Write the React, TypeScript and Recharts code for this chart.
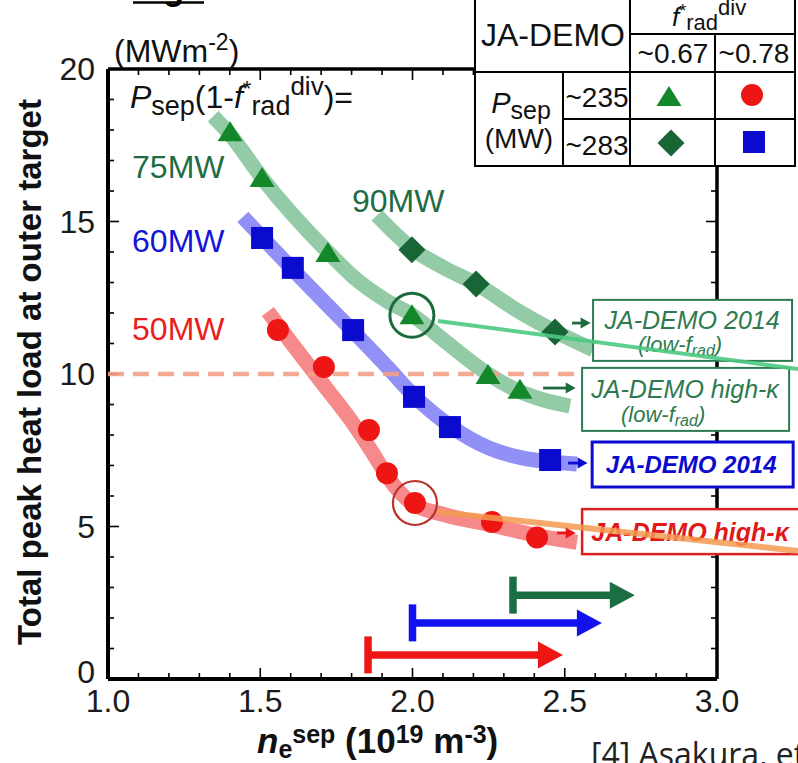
import React from 'react';
import { ComposedChart, XAxis, YAxis, Line, Scatter, ReferenceLine } from 'recharts';

const FONT = '"Liberation Sans", Arial, Helvetica, sans-serif';
const W = 798;
const H = 763;

// ---- axis ticks ----
const xTickLabels = [1.0, 1.5, 2.0, 2.5, 3.0];
const yTickLabels = [0, 5, 10, 15, 20];
const xInnerTicks = [1.1, 1.2, 1.3, 1.4, 1.5, 1.6, 1.7, 1.8, 1.9, 2.0, 2.1, 2.2, 2.3, 2.4, 2.5, 2.6, 2.7, 2.8, 2.9];
const yInnerTicks = [1, 2, 3, 4, 5, 6, 7, 8, 9, 10, 11, 12, 13, 14, 15, 16, 17, 18, 19];
const xMajorTicks = [1.5, 2.0, 2.5];
const yMajorTicks = [5, 10, 15];

// ---- colours ----
const GREEN_TRI = '#14872a';
const GREEN_DIA = '#186636';
const BLUE = '#0b0bd0';
const RED = '#ee1515';
const LABEL_GREEN = '#1f6c44';
const BOX_GREEN = '#2d7a50';

// ---- measured points ----
const triangles75 = [
  { x: 1.401, y: 17.93 }, { x: 1.506, y: 16.43 }, { x: 1.722, y: 13.97 },
  { x: 1.998, y: 11.93 }, { x: 2.248, y: 9.97 }, { x: 2.353, y: 9.48 },
];
const diamonds90 = [
  { x: 1.998, y: 14.07 }, { x: 2.209, y: 12.95 }, { x: 2.468, y: 11.38 },
];
const squares60 = [
  { x: 1.506, y: 14.46 }, { x: 1.607, y: 13.48 }, { x: 1.805, y: 11.44 },
  { x: 2.005, y: 9.25 }, { x: 2.123, y: 8.26 }, { x: 2.452, y: 7.18 },
];
const circles50 = [
  { x: 1.558, y: 11.44 }, { x: 1.709, y: 10.23 }, { x: 1.857, y: 8.16 },
  { x: 1.916, y: 6.75 }, { x: 2.008, y: 5.77 }, { x: 2.261, y: 5.15 }, { x: 2.409, y: 4.64 },
];

// ---- guide curves (thick translucent bands) ----
const curve75 = [
  { x: 1.345, y: 18.45 }, { x: 1.401, y: 17.85 }, { x: 1.506, y: 16.42 },
  { x: 1.722, y: 14.0 }, { x: 1.81, y: 13.15 }, { x: 1.915, y: 12.4 }, { x: 2.0, y: 11.93 },
  { x: 2.11, y: 11.05 }, { x: 2.248, y: 10.0 }, { x: 2.353, y: 9.42 }, { x: 2.44, y: 9.12 }, { x: 2.517, y: 8.95 },
];
const curve90 = [
  { x: 1.883, y: 15.2 }, { x: 2.0, y: 14.1 }, { x: 2.1, y: 13.5 }, { x: 2.21, y: 12.95 },
  { x: 2.35, y: 12.05 }, { x: 2.468, y: 11.4 }, { x: 2.593, y: 10.8 },
];
const curve60 = [
  { x: 1.443, y: 15.15 }, { x: 1.506, y: 14.48 }, { x: 1.607, y: 13.42 }, { x: 1.805, y: 11.4 },
  { x: 1.92, y: 10.2 }, { x: 2.005, y: 9.28 }, { x: 2.123, y: 8.3 },
  { x: 2.25, y: 7.58 }, { x: 2.36, y: 7.25 }, { x: 2.452, y: 7.12 }, { x: 2.54, y: 7.05 },
];
const curve50 = [
  { x: 1.525, y: 12.05 }, { x: 1.6, y: 11.05 }, { x: 1.7, y: 9.75 }, { x: 1.8, y: 8.45 },
  { x: 1.87, y: 7.4 }, { x: 1.92, y: 6.6 }, { x: 2.0, y: 5.75 }, { x: 2.1, y: 5.4 },
  { x: 2.26, y: 5.05 }, { x: 2.41, y: 4.7 }, { x: 2.54, y: 4.48 },
];

// ---- annotations ----
const ringGreen = [{ x: 1.998, y: 11.93 }];
const ringRed = [{ x: 2.008, y: 5.77 }];
const thresholdLine = [{ x: 1.0, y: 10 }, { x: 2.56, y: 10 }];
const linkGreen = [{ x: 2.084, y: 11.74 }, { x: 3.266, y: 10.16 }];
const linkOrange = [{ x: 2.08, y: 5.48 }, { x: 3.266, y: 4.2 }];

const rangeArrows = [
  { id: 'red', x0: 1.854, x1: 2.494, y: 0.79 },
  { id: 'blue', x0: 2.0, x1: 2.622, y: 1.84 },
  { id: 'green', x0: 2.33, x1: 2.73, y: 2.75 },
];
const rangeColors: Record<string, string> = { red: RED, blue: '#1212ee', green: '#1b6e42' };

const smallArrows = [
  { id: 'a1', x0: 2.524, x1: 2.585, y: 11.67 },
  { id: 'a2', x0: 2.429, x1: 2.536, y: 9.54 },
  { id: 'a3', x0: 2.511, x1: 2.575, y: 7.08 },
  { id: 'a4', x0: 2.475, x1: 2.536, y: 4.79 },
];
const smallArrowColors: Record<string, string> = { a1: '#1d6b40', a2: '#1d6b40', a3: BLUE, a4: RED };

const boxAnchors = [
  { id: 'b1', x: 2.593, y: 12.43, title: 'JA-DEMO 2014', sub: true },
  { id: 'b2', x: 2.557, y: 10.2, title: 'JA-DEMO high-κ', sub: true },
  { id: 'b3', x: 2.59, y: 7.77, title: 'JA-DEMO 2014', sub: false },
  { id: 'b4', x: 2.557, y: 5.57, title: 'JA-DEMO high-κ', sub: false },
];
const boxStyles: Record<string, any> = {
  b1: { w: 199, h: 61, stroke: BOX_GREEN, sw: 2, color: BOX_GREEN, bold: false, fs: 25, tx: 99, ty: 29, sx: 87, sy: 52 },
  b2: { w: 207, h: 63, stroke: BOX_GREEN, sw: 2, color: BOX_GREEN, bold: false, fs: 25, tx: 103, ty: 30, sx: 81, sy: 54 },
  b3: { w: 201, h: 45, stroke: BLUE, sw: 3, color: BLUE, bold: true, fs: 24, tx: 99, ty: 31 },
  b4: { w: 220, h: 45, stroke: '#dd2020', sw: 2.5, color: '#e01818', bold: true, fs: 25, tx: 108, ty: 32 },
};

const seriesLabels = [
  { x: 1.079, y: 16.43, text: '75MW', color: LABEL_GREEN },
  { x: 1.079, y: 14.0, text: '60MW', color: '#1414d6' },
  { x: 1.079, y: 11.11, text: '50MW', color: '#e81e1e' },
  { x: 1.801, y: 15.31, text: '90MW', color: LABEL_GREEN },
];
const formulaLabel = [{ x: 1.072, y: 18.72 }];

// ---- rich text helper ----
type Seg = { t: string; s?: number; sh?: number; i?: boolean; b?: boolean };
function Rich(props: { x: number; y: number; segs: Seg[]; size: number; fill: string; anchor?: string; bold?: boolean; italic?: boolean; family?: string }) {
  let prev = 0;
  return (
    <text x={props.x} y={props.y} fill={props.fill} fontSize={props.size} textAnchor={props.anchor || 'start'}
      fontFamily={props.family || FONT} fontWeight={props.bold ? 'bold' : 'normal'} fontStyle={props.italic ? 'italic' : 'normal'}>
      {props.segs.map((g, k) => {
        const sh = g.sh ?? 0;
        const dy = sh - prev;
        prev = sh;
        return (
          <tspan key={k} dy={dy} fontSize={g.s ?? props.size} fontStyle={g.i ? 'italic' : undefined} fontWeight={g.b ? 'bold' : undefined}>
            {g.t}
          </tspan>
        );
      })}
    </text>
  );
}

// ---- shapes ----
const triShape = (p: any) => (
  <polygon points={`${p.cx},${p.cy - 11} ${p.cx - 12.5},${p.cy + 9} ${p.cx + 12.5},${p.cy + 9}`} fill={GREEN_TRI} />
);
const diaShape = (p: any) => (
  <polygon points={`${p.cx},${p.cy - 13.5} ${p.cx + 13.5},${p.cy} ${p.cx},${p.cy + 13.5} ${p.cx - 13.5},${p.cy}`} fill={GREEN_DIA} />
);
const sqShape = (p: any) => <rect x={p.cx - 11} y={p.cy - 11} width={22} height={22} fill={BLUE} />;
const cirShape = (p: any) => <circle cx={p.cx} cy={p.cy} r={11} fill={RED} />;
const ringShape = (color: string, w: number) => (p: any) => (
  <circle cx={p.cx} cy={p.cy} r={22} fill="none" stroke={color} strokeWidth={w} />
);

const tickShape = (dir: 'right' | 'left' | 'up' | 'down') => (p: any) => {
  const L = p.payload.major ? 11 : 6;
  const { cx, cy } = p;
  if (dir === 'right') return <line x1={cx} y1={cy} x2={cx + L} y2={cy} stroke="#000" strokeWidth={1.6} />;
  if (dir === 'left') return <line x1={cx} y1={cy} x2={cx - L} y2={cy} stroke="#000" strokeWidth={1.6} />;
  if (dir === 'up') return <line x1={cx} y1={cy} x2={cx} y2={cy - L} stroke="#000" strokeWidth={1.6} />;
  return <line x1={cx} y1={cy} x2={cx} y2={cy + L} stroke="#000" strokeWidth={1.6} />;
};

const labelShape = (p: any) => (
  <text x={p.cx} y={p.cy} fill={p.payload.color} fontSize={32} fontFamily={FONT}>{p.payload.text}</text>
);
const formulaShape = (p: any) => (
  <Rich x={p.cx} y={p.cy} size={32} fill="#111" segs={[
    { t: 'P', i: true }, { t: 'sep', s: 27, sh: 7 }, { t: '(1-', sh: 0 }, { t: 'f', i: true },
    { t: '*', s: 22, sh: -12 }, { t: 'rad', s: 27, sh: 7 }, { t: 'div', s: 26, sh: -13 }, { t: ')=', sh: 0 },
  ]} />
);

const lowFrad = (x: number, y: number, color: string) => (
  <Rich x={x} y={y} size={22} fill={color} anchor="middle" italic segs={[
    { t: '(low-f' }, { t: 'rad', s: 16, sh: 4 }, { t: ')', sh: 0 },
  ]} />
);

const boxShape = (p: any) => {
  const b = p.payload;
  const s = boxStyles[b.id];
  const x = p.cx;
  const y = p.cy;
  return (
    <g>
      <rect x={x} y={y} width={s.w} height={s.h} fill="#fff" stroke={s.stroke} strokeWidth={s.sw} />
      <text x={x + s.tx} y={y + s.ty} fill={s.color} fontSize={s.fs} fontStyle="italic" fontWeight={s.bold ? 'bold' : 'normal'}
        textAnchor="middle" fontFamily={FONT}>{b.title}</text>
      {b.sub ? lowFrad(x + s.sx, y + s.sy, s.color) : null}
    </g>
  );
};

const rangeArrowShape = (p: any) => {
  const c = rangeColors[p.id] || '#000';
  const { x1, y1, x2 } = p;
  const head = 25;
  const hh = 13.5;
  return (
    <g>
      <line x1={x1} y1={y1 - 18.5} x2={x1} y2={y1 + 18.5} stroke={c} strokeWidth={7.5} />
      <line x1={x1} y1={y1} x2={x2 - head + 2} y2={y1} stroke={c} strokeWidth={7.5} />
      <polygon points={`${x2},${y1} ${x2 - head},${y1 - hh} ${x2 - head},${y1 + hh}`} fill={c} />
    </g>
  );
};

const smallArrowShape = (p: any) => {
  const c = smallArrowColors[p.id] || '#000';
  const { x1, y1, x2 } = p;
  return (
    <g>
      <line x1={x1} y1={y1} x2={x2 - 8} y2={y1} stroke={c} strokeWidth={2.8} />
      <polygon points={`${x2},${y1} ${x2 - 10},${y1 - 5.5} ${x2 - 10},${y1 + 5.5}`} fill={c} />
    </g>
  );
};

const YTick = (p: any) => {
  const v = p.payload.value;
  const lift = v === 0 ? -7 : 0;
  return (
    <text x={p.x} y={p.y + lift} dy="0.355em" textAnchor="end" fontSize={32} fill="#1a1a1a" fontFamily={FONT}>{v}</text>
  );
};

const leftTicks = yInnerTicks.map((v) => ({ x: 1, y: v, major: yMajorTicks.includes(v) }));
const rightTicks = yInnerTicks.map((v) => ({ x: 3, y: v, major: yMajorTicks.includes(v) }));
const bottomTicks = xInnerTicks.map((v) => ({ x: v, y: 0, major: xMajorTicks.includes(v) }));
const topTicks = xInnerTicks.map((v) => ({ x: v, y: 20, major: xMajorTicks.includes(v) }));

function Overlay() {
  // table geometry
  const L = 475, R = 795, B = 166;
  const c1 = 563, c2 = 630, c3 = 715;
  const r1 = 34, r2 = 72, r3 = 119;
  const ln = { stroke: '#000', strokeWidth: 2 };
  return (
    <svg width={W} height={H} style={{ position: 'absolute', left: 0, top: 0, pointerEvents: 'none' }}>
      {/* figure caption remnant */}
      <text x={133} y={0} fontSize={34} fontWeight="bold" fontFamily={FONT} fill="#000">Fig.</text>
      <line x1={133} y1={2.5} x2={204} y2={2.5} stroke="#000" strokeWidth={2.5} />

      {/* unit */}
      <Rich x={114} y={62} size={32} fill="#111" segs={[{ t: '(MWm' }, { t: '-2', s: 23, sh: -12 }, { t: ')', sh: 0 }]} />

      {/* y title */}
      <text x={41} y={372} transform="rotate(-90 41 372)" textAnchor="middle" fontWeight="bold" fontSize={33}
        fontFamily={FONT} fill="#111">Total peak heat load at outer target</text>

      {/* x title */}
      <Rich x={257} y={753} size={35} bold fill="#111" segs={[
        { t: 'n', i: true }, { t: 'e', s: 25, sh: 5 }, { t: 'sep', s: 25, sh: -10 }, { t: ' (10', sh: 0 },
        { t: '19', s: 25, sh: -10 }, { t: ' m', sh: 0 }, { t: '-3', s: 25, sh: -10 }, { t: ')', sh: 0 },
      ]} />

      {/* citation */}
      <text x={591} y={766} fontSize={32} fontFamily='"Open Sans", "Noto Sans", sans-serif' fill="#222">[4] Asakura, et al.</text>

      {/* table */}
      <rect x={L} y={0} width={W - L} height={B + 1} fill="#fff" />
      <line x1={L} y1={0} x2={L} y2={B} {...ln} />
      <line x1={R} y1={0} x2={R} y2={B} {...ln} />
      <line x1={L - 1} y1={B} x2={R + 1} y2={B} {...ln} />
      <line x1={L} y1={r2} x2={R} y2={r2} {...ln} />
      <line x1={c2} y1={r1} x2={R} y2={r1} {...ln} />
      <line x1={c1} y1={r3} x2={R} y2={r3} {...ln} />
      <line x1={c2} y1={0} x2={c2} y2={B} {...ln} />
      <line x1={c1} y1={r2} x2={c1} y2={B} {...ln} />
      <line x1={c3} y1={r1} x2={c3} y2={B} {...ln} />

      <text x={553} y={46} textAnchor="middle" fontSize={32} fontFamily={FONT} fill="#111">JA-DEMO</text>
      <Rich x={672} y={26} size={26} fill="#111" segs={[
        { t: 'f', i: true }, { t: '*', s: 18, sh: -9 }, { t: 'rad', s: 22, sh: 4 }, { t: 'div', s: 22, sh: -11 },
      ]} />
      <text x={673} y={63} textAnchor="middle" fontSize={28} fontFamily={FONT} fill="#111">~0.67</text>
      <text x={754} y={63} textAnchor="middle" fontSize={28} fontFamily={FONT} fill="#111">~0.78</text>
      <Rich x={521} y={113} size={29} anchor="middle" fill="#111" segs={[{ t: 'P', i: true }, { t: 'sep', s: 25, sh: 6 }]} />
      <text x={519} y={148} textAnchor="middle" fontSize={28} fontFamily={FONT} fill="#111">(MW)</text>
      <text x={597} y={107} textAnchor="middle" fontSize={28} fontFamily={FONT} fill="#111">~235</text>
      <text x={597} y={155} textAnchor="middle" fontSize={28} fontFamily={FONT} fill="#111">~283</text>
      {triShape({ cx: 669, cy: 97 })}
      {cirShape({ cx: 752, cy: 95 })}
      {diaShape({ cx: 671, cy: 143 })}
      {sqShape({ cx: 754, cy: 142 })}
    </svg>
  );
}

export default function App() {
  return (
    <div style={{ position: 'absolute', left: 0, top: 0, width: W, height: H, background: '#fff', overflow: 'hidden' }}>
      <ComposedChart width={W} height={H} margin={{ top: 69, right: 81, bottom: 44, left: 48 }}>
        <XAxis type="number" dataKey="x" domain={[1, 3]} ticks={xTickLabels} tickFormatter={(v: number) => v.toFixed(1)}
          tickLine={false} axisLine={false} tickMargin={4} height={40} interval={0}
          tick={{ fontSize: 32, fill: '#1a1a1a', fontFamily: FONT }} />
        <YAxis type="number" dataKey="y" domain={[0, 20]} ticks={yTickLabels} tickLine={false} axisLine={false}
          tickMargin={7} width={60} interval={0} tick={YTick} />

        {/* frame */}
        <ReferenceLine x={1} stroke="#000" strokeWidth={4} zIndex={100} />
        <ReferenceLine x={3} stroke="#000" strokeWidth={3.5} zIndex={100} />
        <ReferenceLine y={0} stroke="#000" strokeWidth={4} zIndex={100} />
        <ReferenceLine y={20} stroke="#000" strokeWidth={3.5} zIndex={100} />
        <Scatter data={leftTicks} dataKey="y" shape={tickShape('right')} isAnimationActive={false} zIndex={100} />
        <Scatter data={rightTicks} dataKey="y" shape={tickShape('left')} isAnimationActive={false} zIndex={100} />
        <Scatter data={bottomTicks} dataKey="y" shape={tickShape('up')} isAnimationActive={false} zIndex={100} />
        <Scatter data={topTicks} dataKey="y" shape={tickShape('down')} isAnimationActive={false} zIndex={100} />

        {/* guide bands */}
        <Line data={curve75} dataKey="y" type="monotone" stroke="rgb(60,160,95)" strokeOpacity={0.55} strokeWidth={15}
          dot={false} activeDot={false} isAnimationActive={false} zIndex={200} />
        <Line data={curve90} dataKey="y" type="monotone" stroke="rgb(60,160,95)" strokeOpacity={0.55} strokeWidth={15}
          dot={false} activeDot={false} isAnimationActive={false} zIndex={200} />
        <Line data={curve60} dataKey="y" type="monotone" stroke="rgb(70,70,240)" strokeOpacity={0.6} strokeWidth={15}
          dot={false} activeDot={false} isAnimationActive={false} zIndex={200} />
        <Line data={curve50} dataKey="y" type="monotone" stroke="rgb(240,60,60)" strokeOpacity={0.6} strokeWidth={15}
          dot={false} activeDot={false} isAnimationActive={false} zIndex={200} />

        {/* threshold */}
        <ReferenceLine segment={thresholdLine} ifOverflow="visible" stroke="#f2a088" strokeOpacity={0.9} strokeWidth={4.5}
          strokeDasharray="16 9" zIndex={250} />

        {/* boxes */}
        <Scatter data={boxAnchors} dataKey="y" shape={boxShape} isAnimationActive={false} zIndex={300} />

        {/* markers */}
        <Scatter data={triangles75} dataKey="y" shape={triShape} isAnimationActive={false} zIndex={400} />
        <Scatter data={diamonds90} dataKey="y" shape={diaShape} isAnimationActive={false} zIndex={400} />
        <Scatter data={squares60} dataKey="y" shape={sqShape} isAnimationActive={false} zIndex={400} />
        <Scatter data={circles50} dataKey="y" shape={cirShape} isAnimationActive={false} zIndex={400} />
        <Scatter data={ringGreen} dataKey="y" shape={ringShape('#1b6b3c', 3)} isAnimationActive={false} zIndex={450} />
        <Scatter data={ringRed} dataKey="y" shape={ringShape('#b8322a', 2.2)} isAnimationActive={false} zIndex={450} />

        {/* links and arrows */}
        <ReferenceLine segment={linkGreen} ifOverflow="visible" stroke="#4cc97f" strokeOpacity={0.9} strokeWidth={4} zIndex={500} />
        <ReferenceLine segment={linkOrange} ifOverflow="visible" stroke="#f39a50" strokeOpacity={0.85} strokeWidth={6} zIndex={500} />
        {smallArrows.map((a) => (
          <ReferenceLine key={a.id} segment={[{ x: a.x0, y: a.y }, { x: a.x1, y: a.y }]} ifOverflow="visible"
            shape={(p: any) => smallArrowShape({ ...p, id: a.id })} zIndex={500} />
        ))}
        {rangeArrows.map((a) => (
          <ReferenceLine key={a.id} segment={[{ x: a.x0, y: a.y }, { x: a.x1, y: a.y }]} ifOverflow="visible"
            shape={(p: any) => rangeArrowShape({ ...p, id: a.id })} zIndex={500} />
        ))}

        {/* labels */}
        <Scatter data={seriesLabels} dataKey="y" shape={labelShape} isAnimationActive={false} zIndex={600} />
        <Scatter data={formulaLabel} dataKey="y" shape={formulaShape} isAnimationActive={false} zIndex={600} />
      </ComposedChart>
      <Overlay />
    </div>
  );
}
